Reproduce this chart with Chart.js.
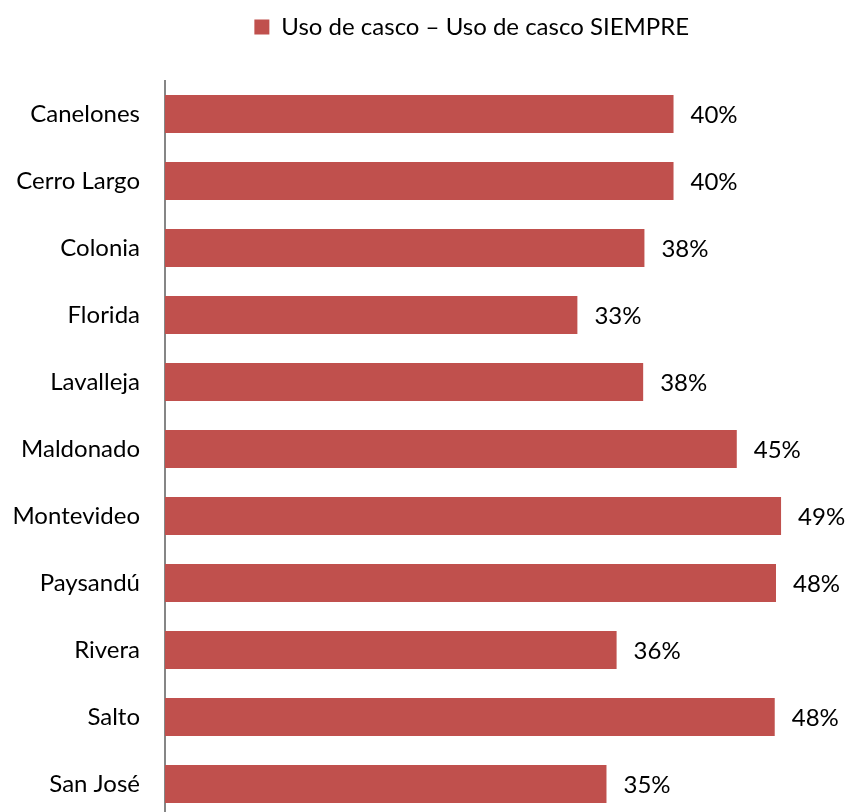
<!DOCTYPE html>
<html>
<head>
<meta charset="utf-8">
<script src="https://cdn.jsdelivr.net/npm/chart.js@4"></script>
<style>
  html, body { margin: 0; padding: 0; background: #fff; overflow: hidden; }
  canvas { display: block; }
</style>
</head>
<body>
<canvas id="casco" width="845" height="818"></canvas>
<script>
const departamentos = ['Canelones', 'Cerro Largo', 'Colonia', 'Florida', 'Lavalleja', 'Maldonado',
  'Montevideo', 'Paysandú', 'Rivera', 'Salto', 'San José'];
const usoSiempre = [40.2, 40.2, 37.9, 32.6, 37.8, 45.2, 48.7, 48.3, 35.7, 48.2, 34.9];
const serieLabel = 'Uso de casco – Uso de casco SIEMPRE';

const FONT = 'Lato, "Liberation Sans", sans-serif';

// etiquetas de valor al final de cada barra
const etiquetas = {
  id: 'etiquetas',
  afterDatasetsDraw(chart) {
    const ctx = chart.ctx;
    const meta = chart.getDatasetMeta(0);
    ctx.save();
    ctx.font = '24px ' + FONT;
    ctx.fillStyle = '#000';
    ctx.textAlign = 'left';
    ctx.textBaseline = 'middle';
    meta.data.forEach((bar, i) => {
      ctx.fillText(Math.round(usoSiempre[i]) + '%', bar.x + 17, bar.y + 1);
    });
    ctx.restore();
  }
};

// la leyenda va centrada sobre el area de trazado y mas arriba
const moverLeyenda = {
  id: 'moverLeyenda',
  afterLayout(chart) {
    const lg = chart.legend;
    lg.left += 73;
    lg.right += 73;
    lg.top -= 31.5;
    lg.bottom -= 31.5;
  }
};

new Chart(document.getElementById('casco'), {
  type: 'bar',
  data: {
    labels: departamentos,
    datasets: [{
      label: serieLabel,
      data: usoSiempre,
      backgroundColor: '#C0504D',
      borderWidth: 0,
      barPercentage: 0.567,
      categoryPercentage: 1
    }]
  },
  options: {
    indexAxis: 'y',
    responsive: false,
    animation: false,
    layout: { padding: { top: 36.5, right: 47.5, bottom: 0.5, left: 0 } },
    scales: {
      x: { display: false, min: 0, max: 50 },
      y: {
        afterFit(scale) {
          scale.width = 165;
          scale.paddingTop = 0;
          scale.paddingBottom = 0;
        },
        grid: { display: false, drawTicks: false },
        border: { display: true, color: '#868686', width: 2 },
        ticks: { color: '#000', padding: 25, font: { family: FONT, size: 24 } }
      }
    },
    plugins: {
      legend: {
        position: 'top',
        labels: {
          color: '#000',
          boxWidth: 15,
          boxHeight: 15,
          padding: 10,
          font: { family: FONT, size: 24 }
        }
      },
      tooltip: { enabled: false }
    }
  },
  plugins: [etiquetas, moverLeyenda]
});
</script>
</body>
</html>
